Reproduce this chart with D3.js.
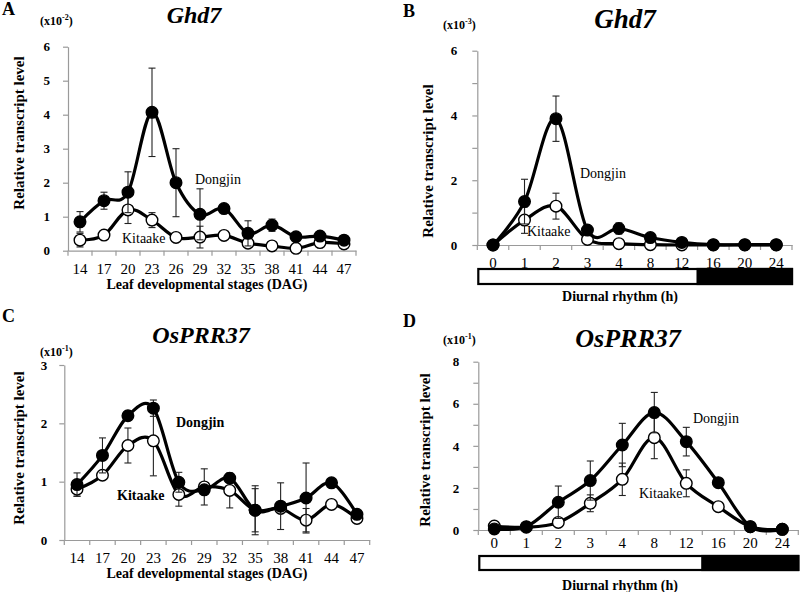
<!DOCTYPE html>
<html><head><meta charset="utf-8">
<script src="https://cdn.jsdelivr.net/npm/d3@7/dist/d3.min.js"></script>
<style>
body{margin:0;background:#fff;}
svg, svg text{font-family:"Liberation Serif","Times New Roman",serif !important;}
</style></head>
<body><svg id="chart" width="800" height="592"></svg>
<script>
// ---------- data ----------
const stagesDAG = ["14","17","20","23","26","29","32","35","38","41","44","47"];
const hoursDiurnal = ["0","1","2","3","4","8","12","16","20","24"];
const hoursNumeric = [0,1,2,3,4,8,12,16,20,24];
const lightHours = 14;

// Ghd7, leaf stages (x10^-2)
const ghd7LeafDongjin    = [0.85,1.47,1.72,4.07,2.00,1.07,1.24,0.51,0.75,0.41,0.43,0.31];
const ghd7LeafDongjinErr = [0.30,0.25,0.60,1.30,1.00,0.75,0.05,0.37,0.18,0.05,0.05,0.05];
const ghd7LeafKitaake    = [0.31,0.46,1.20,0.90,0.39,0.40,0.45,0.22,0.14,0.07,0.24,0.20];
const ghd7LeafKitaakeErr = [0.20,0.05,0.40,0.22,0.03,0.32,0.05,0.03,0.02,0.02,0.05,0.03];

// Ghd7, diurnal (x10^-3)
const ghd7DiurnalDongjin    = [0,1.34,3.90,0.46,0.51,0.23,0.08,0.01,0.01,0.01];
const ghd7DiurnalDongjinErr = [0,0.69,0.70,0.05,0.17,0.05,0.03,0,0,0];
const ghd7DiurnalKitaake    = [0,0.77,1.20,0.17,0.04,0.01,0,0,0,0];
const ghd7DiurnalKitaakeErr = [0,0.41,0.40,0.03,0.02,0,0,0,0,0];

// OsPRR37, leaf stages (x10^-1)
const prr37LeafDongjin    = [0.95,1.45,2.13,2.26,0.99,0.86,1.06,0.51,0.58,0.72,0.98,0.44];
const prr37LeafDongjinErr = [0.20,0.30,0.08,0.14,0.17,0.05,0.05,0.42,0.40,0.60,0.03,0.03];
const prr37LeafKitaake    = [0.87,1.11,1.62,1.70,0.78,0.91,0.85,0.51,0.54,0.34,0.61,0.37];
const prr37LeafKitaakeErr = [0.12,0.05,0.30,0.60,0.20,0.31,0.30,0.37,0.05,0.20,0.07,0.03];

// OsPRR37, diurnal (x10^-1)
const prr37DiurnalDongjin    = [0.05,0.16,1.32,2.35,4.04,5.58,4.20,2.25,0.16,0.03];
const prr37DiurnalDongjinErr = [0.02,0.05,0.77,0.93,1.03,0.96,0.68,0.05,0.05,0];
const prr37DiurnalKitaake    = [0.19,0.13,0.36,1.27,2.41,4.39,2.22,1.11,0.16,0.03];
const prr37DiurnalKitaakeErr = [0.05,0.05,0.05,0.40,0.77,1.00,0.64,0.05,0.05,0];

// ---------- drawing ----------
const FONT = '"Liberation Serif", "Times New Roman", serif';
const svg = d3.select("#chart");
svg.append("rect").attr("width",800).attr("height",592).attr("fill","#fff");
const AXIS = "#9a9a9a";

function txt(g){ return g.append("text").style("font-family",FONT).attr("fill","#000"); }

function panel(o){
  const g = svg.append("g").style("font-family",FONT);
  const x = d3.scaleBand().domain(o.cats).range([o.x0,o.x1]).paddingInner(0).paddingOuter(0);
  const cx = d => x(d) + x.bandwidth()/2;
  const y = d3.scaleLinear().domain([0,o.yMax]).range([o.yB,o.yT]);

  // y axis
  const ya = g.append("g").attr("transform",`translate(${o.x0},0)`)
    .call(d3.axisLeft(y).tickValues(d3.range(0,o.yMax+0.001,o.yTickStep))
      .tickSize(5).tickSizeOuter(0).tickPadding(o.yPad)
      .tickFormat(v => (Math.abs(v/o.yLabelStep - Math.round(v/o.yLabelStep))<1e-6) ? d3.format("d")(v) : ""));
  ya.select(".domain").attr("stroke",AXIS).attr("stroke-width",1.2);
  ya.selectAll(".tick line").attr("stroke",AXIS).attr("stroke-width",1.2);
  ya.selectAll(".tick text").style("font-family",FONT).attr("font-size",13)
    .attr("font-weight","bold").attr("fill","#000");

  // x axis
  const xa = g.append("g").attr("transform",`translate(0,${o.yB})`)
    .call(d3.axisBottom(x).tickSize(0).tickSizeOuter(0).tickPadding(o.xPad));
  xa.select(".domain").attr("stroke",AXIS).attr("stroke-width",1.2);
  xa.selectAll(".tick text").style("font-family",FONT).attr("font-size",o.xFont)
    .attr("fill","#000");
  const bounds = o.cats.map(d => x(d)).concat([o.x1]);
  xa.selectAll("line.bt").data(bounds).join("line").attr("class","bt")
    .attr("x1",d=>d).attr("x2",d=>d).attr("y1",0).attr("y2",5)
    .attr("stroke",AXIS).attr("stroke-width",1.2);

  const line = d3.line().x(d=>cx(d.c)).y(d=>y(d.v)).curve(d3.curveCardinal.tension(0));
  const series = [
    {vals:o.kit, err:o.kitErr, fill:"#fff"},
    {vals:o.dong, err:o.dongErr, fill:"#000"}
  ];
  series.forEach(s => {
    const pts = o.cats.map((c,i)=>({c, v:s.vals[i], e:s.err[i]}));
    g.append("path").datum(pts).attr("d",line).attr("fill","none")
      .attr("stroke","#000").attr("stroke-width",3.2);
    const eb = g.append("g").selectAll("g").data(pts.filter(p=>p.e>0)).join("g")
      .attr("stroke","#222").attr("stroke-width",1.1);
    eb.append("line").attr("x1",p=>cx(p.c)).attr("x2",p=>cx(p.c))
      .attr("y1",p=>y(p.v+p.e)).attr("y2",p=>y(p.v-p.e));
    eb.append("line").attr("x1",p=>cx(p.c)-3.5).attr("x2",p=>cx(p.c)+3.5)
      .attr("y1",p=>y(p.v+p.e)).attr("y2",p=>y(p.v+p.e));
    eb.append("line").attr("x1",p=>cx(p.c)-3.5).attr("x2",p=>cx(p.c)+3.5)
      .attr("y1",p=>y(p.v-p.e)).attr("y2",p=>y(p.v-p.e));
    g.append("g").selectAll("circle").data(pts).join("circle")
      .attr("cx",p=>cx(p.c)).attr("cy",p=>y(p.v)).attr("r",5.8)
      .attr("fill",s.fill).attr("stroke","#000").attr("stroke-width",1.4);
  });

  // series labels
  txt(g).attr("x",o.dLab[0]).attr("y",o.dLab[1]).text("Dongjin")
    .attr("font-size",14).attr("font-weight",o.labBold?"bold":"normal");
  txt(g).attr("x",o.kLab[0]).attr("y",o.kLab[1]).text("Kitaake")
    .attr("font-size",14).attr("font-weight",o.labBold?"bold":"normal");

  // titles / letters / multipliers
  txt(g).attr("x",o.letter[0]).attr("y",o.letter[1]).text(o.letterText)
    .attr("font-size",18).attr("font-weight","bold");
  txt(g).attr("x",o.title[0]).attr("y",o.title[1]).text(o.titleText)
    .attr("text-anchor","middle").attr("font-size",o.titleSize).attr("font-weight","bold").attr("font-style","italic");
  const m = txt(g).attr("x",o.mult[0]).attr("y",o.mult[1]).attr("font-size",12).attr("font-weight","bold");
  m.append("tspan").text("(x10");
  m.append("tspan").text(o.multExp).attr("font-size",8).attr("dy",-5);
  m.append("tspan").text(")").attr("dy",5);

  // axis titles
  txt(g).attr("transform",`translate(${o.yLab[0]},${o.yLab[1]}) rotate(-90)`)
    .attr("text-anchor","middle").attr("font-size",15).attr("font-weight","bold")
    .text("Relative transcript level");
  txt(g).attr("x",o.xLab[0]).attr("y",o.xLab[1]).attr("text-anchor","middle")
    .attr("font-size",14).attr("font-weight","bold").text(o.xLabText);

  // light/dark bar
  if (o.bar){
    const i = hoursNumeric.findIndex(h=>h>lightHours);
    const t = (lightHours-hoursNumeric[i-1])/(hoursNumeric[i]-hoursNumeric[i-1]);
    const xe = cx(o.cats[i-1]) + t*(cx(o.cats[i])-cx(o.cats[i-1]));
    g.append("rect").attr("x",o.x0+1).attr("y",o.bar[0]).attr("width",o.x1-o.x0-1).attr("height",o.bar[1]-o.bar[0])
      .attr("fill","#fff").attr("stroke","#000").attr("stroke-width",2.2);
    g.append("rect").attr("x",xe).attr("y",o.bar[0]).attr("width",o.x1-xe).attr("height",o.bar[1]-o.bar[0])
      .attr("fill","#000").attr("stroke","#000").attr("stroke-width",2.2);
  }
}

panel({cats:stagesDAG, x0:68, x1:356, yT:46.7, yB:250.7, yMax:6, yTickStep:1, yLabelStep:1, yPad:13, xPad:13, xFont:15,
  dong:ghd7LeafDongjin, dongErr:ghd7LeafDongjinErr, kit:ghd7LeafKitaake, kitErr:ghd7LeafKitaakeErr,
  dLab:[195,184], kLab:[122,243], labBold:false,
  letter:[2,15], letterText:"A", title:[194,23], titleText:"Ghd7", titleSize:24, mult:[40,25], multExp:"-2",
  yLab:[24,133], xLab:[207,289], xLabText:"Leaf developmental stages (DAG)"});

panel({cats:hoursDiurnal, x0:477.3, x1:792, yT:50.7, yB:245, yMax:6, yTickStep:1, yLabelStep:2, yPad:15, xPad:12, xFont:15,
  dong:ghd7DiurnalDongjin, dongErr:ghd7DiurnalDongjinErr, kit:ghd7DiurnalKitaake, kitErr:ghd7DiurnalKitaakeErr,
  dLab:[580,178], kLab:[527,236], labBold:false,
  letter:[403,17], letterText:"B", title:[625,28], titleText:"Ghd7", titleSize:27, mult:[443,29], multExp:"-3",
  yLab:[433,161], xLab:[620,301], xLabText:"Diurnal rhythm (h)", bar:[269,284]});

panel({cats:stagesDAG, x0:64.3, x1:369.7, yT:365, yB:540, yMax:3, yTickStep:1, yLabelStep:1, yPad:12, xPad:12, xFont:15,
  dong:prr37LeafDongjin, dongErr:prr37LeafDongjinErr, kit:prr37LeafKitaake, kitErr:prr37LeafKitaakeErr,
  dLab:[176,427], kLab:[117,500], labBold:true,
  letter:[2,322], letterText:"C", title:[201,343], titleText:"OsPRR37", titleSize:24, mult:[40,356], multExp:"-1",
  yLab:[24,448], xLab:[207,578], xLabText:"Leaf developmental stages (DAG)"});

panel({cats:hoursDiurnal, x0:478.3, x1:798.3, yT:361.7, yB:530, yMax:8, yTickStep:1, yLabelStep:2, yPad:14, xPad:7, xFont:15,
  dong:prr37DiurnalDongjin, dongErr:prr37DiurnalDongjinErr, kit:prr37DiurnalKitaake, kitErr:prr37DiurnalKitaakeErr,
  dLab:[693,423], kLab:[639,498], labBold:false,
  letter:[403,327], letterText:"D", title:[628,347], titleText:"OsPRR37", titleSize:26, mult:[443,344], multExp:"-1",
  yLab:[430,450], xLab:[620,590], xLabText:"Diurnal rhythm (h)", bar:[556,570]});
</script></body></html>
